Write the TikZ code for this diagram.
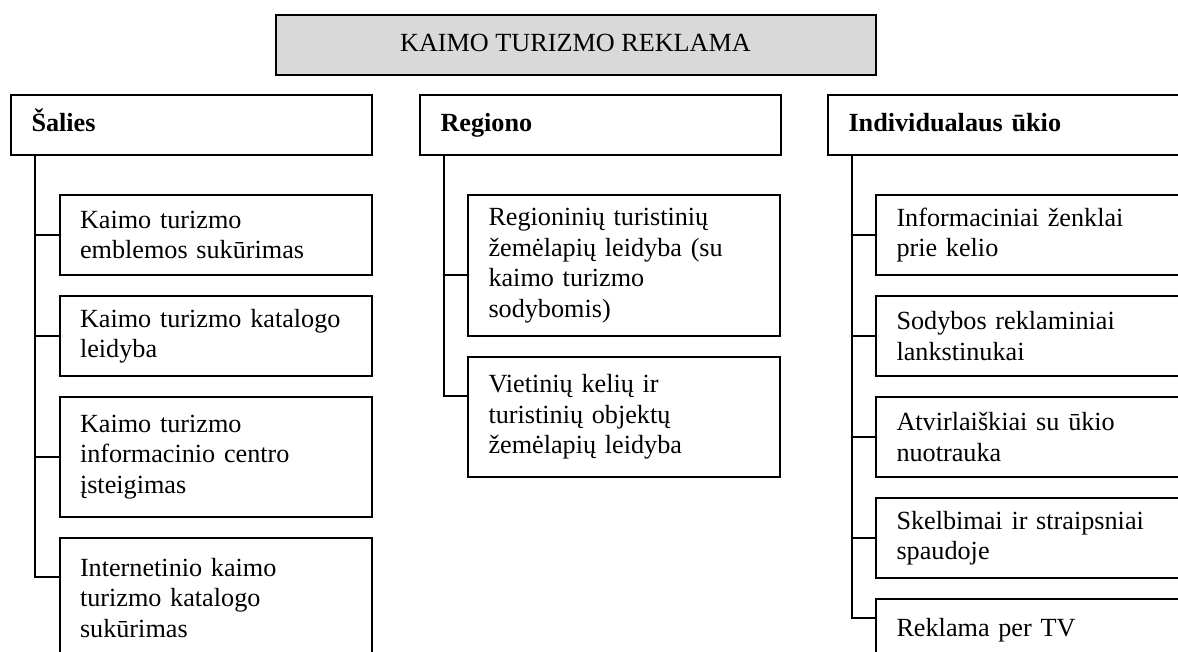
\documentclass[tikz,border=0pt]{standalone}
\usepackage{fontspec}
\setmainfont{Liberation Serif}
\usetikzlibrary{positioning}
\definecolor{titlegray}{HTML}{D9D9D9}
\tikzset{
  boxline/.style={draw=black,line width=2pt},
  maintitle/.style={boxline,fill=titlegray,minimum width=600pt,minimum height=60pt,
    inner sep=0pt,text height=18pt,text depth=6pt,anchor=north west,
    font=\fontsize{26.2}{30.5}\selectfont},
  headbox/.style={boxline,minimum height=60pt,inner xsep=20.5pt,inner ysep=0pt,
    text width=320pt,text height=18pt,text depth=6pt,align=left,anchor=north west,
    font=\fontsize{26.2}{30.5}\selectfont\bfseries},
  itembox/.style={boxline,inner xsep=20.5pt,inner ysep=0pt,text width=271pt,
    align=left,anchor=north west,font=\fontsize{26.2}{30.5}\selectfont},
  link/.style={line width=2pt,draw=black}
}

\begin{document}
\begin{tikzpicture}[x=1pt,y=-1pt,node distance=19pt]
  \fill[white] (0,0) rectangle (1178,651);
  \useasboundingbox (0,0) rectangle (1178,651);
  \node[maintitle] (reklama) at (274.5,14) {KAIMO TURIZMO REKLAMA};
  % three levels
  \node[headbox] (salies) at (10,94) {Šalies};
  \node[headbox] (regiono) at (419,94) {Regiono};
  \node[headbox] (ukio) at (827,94) {Individualaus ūkio};
  % country level
  \node[itembox,minimum height=80pt] (s1) at (58.5,194) {Kaimo turizmo\\emblemos sukūrimas};
  \node[itembox,minimum height=80pt,below=of s1] (s2) {Kaimo turizmo katalogo\\leidyba};
  \node[itembox,minimum height=120pt,below=of s2] (s3) {Kaimo turizmo\\informacinio centro\\įsteigimas};
  \node[itembox,minimum height=120pt,below=of s3] (s4) {Internetinio kaimo\\turizmo katalogo\\sukūrimas};
  % region level
  \node[itembox,minimum height=141pt] (r1) at (467,194) {Regioninių turistinių\\žemėlapių leidyba (su\\kaimo turizmo\\sodybomis)};
  \node[itembox,minimum height=120pt,below=of r1] (r2) {Vietinių kelių ir\\turistinių objektų\\žemėlapių leidyba};
  % farm level
  \node[itembox,minimum height=80pt] (i1) at (875,194) {Informaciniai ženklai\\prie kelio};
  \node[itembox,minimum height=80pt,below=of i1] (i2) {Sodybos reklaminiai\\lankstinukai};
  \node[itembox,minimum height=80pt,below=of i2] (i3) {Atvirlaiškiai su ūkio\\nuotrauka};
  \node[itembox,minimum height=80pt,below=of i3] (i4) {Skelbimai ir straipsniai\\spaudoje};
  \node[itembox,minimum height=62pt,below=of i4] (i5) {Reklama per TV};
  % spines
  \foreach \n in {s1,s2,s3}
    \draw[link] ([xshift=24.5pt]salies.south west) |- (\n.west);
  \draw[link] ([xshift=24.5pt]salies.south west) |- ([yshift=-40pt]s4.north west);
  \draw[link] ([xshift=24.5pt]regiono.south west) |- ([yshift=-81pt]r1.north west);
  \draw[link] ([xshift=24.5pt]regiono.south west) |- ([yshift=-40pt]r2.north west);
  \foreach \n in {i1,i2,i3,i4}
    \draw[link] ([xshift=24.5pt]ukio.south west) |- (\n.west);
  \draw[link] ([xshift=24.5pt]ukio.south west) |- ([yshift=-20pt]i5.north west);
\end{tikzpicture}
\end{document}
